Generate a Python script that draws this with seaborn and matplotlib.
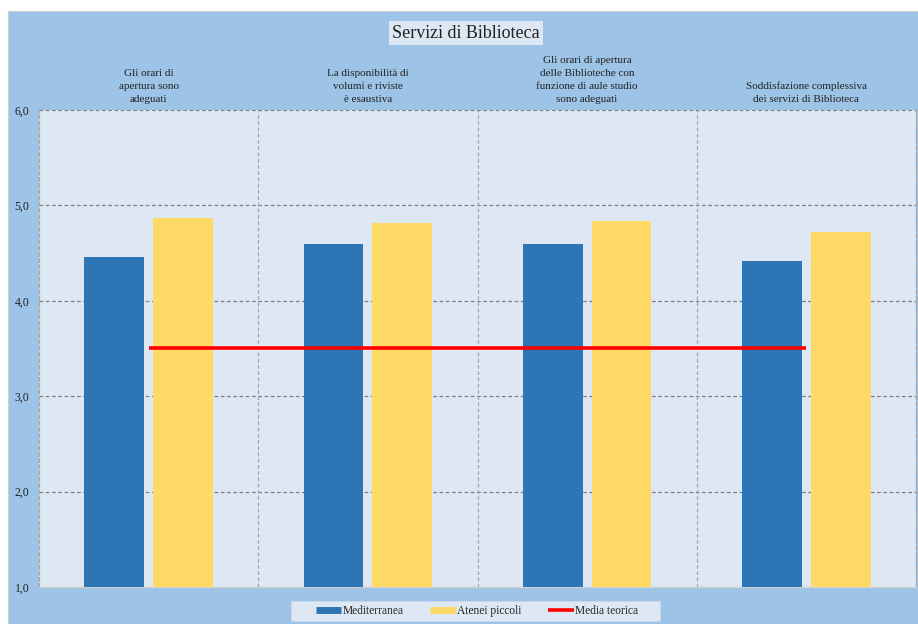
import matplotlib
matplotlib.use("Agg")
import matplotlib.pyplot as plt
from matplotlib.lines import Line2D
from matplotlib.patches import Rectangle
import seaborn as sns
import pandas as pd

# Survey items (category labels shown above the plot)
categories = [
    "Gli orari di\napertura sono\nadeguati",
    "La disponibilità di\nvolumi e riviste\nè esaustiva",
    "Gli orari di apertura\ndelle Biblioteche con\nfunzione di aule studio\nsono adeguati",
    "Soddisfazione complessiva\ndei servizi di Biblioteca",
]
mediterranea = [4.46, 4.60, 4.60, 4.42]
atenei_piccoli = [4.87, 4.82, 4.84, 4.72]
media_teorica = [3.5, 3.5, 3.5, 3.5]
series_names = ["Mediterranea", "Atenei piccoli"]
yticks = [1.0, 2.0, 3.0, 4.0, 5.0, 6.0]

OUTER_BG = "#9DC3E6"
PLOT_BG = "#DDE8F4"
BLUE = "#2E75B6"
YELLOW = "#FFD966"
RED = "#FF0000"

df = pd.DataFrame({
    "item": list(range(len(categories))) * 2,
    "serie": [series_names[0]] * len(categories) + [series_names[1]] * len(categories),
    "valore": mediterranea + atenei_piccoli,
})

sns.set_theme(style="white")
plt.rcParams["font.family"] = ["Liberation Serif", "DejaVu Serif"]

fig = plt.figure(figsize=(9.18, 6.24), dpi=100)
fig.patch.set_facecolor("white")
fig.patches.append(Rectangle((8 / 918, 0), 1 - 8 / 918, 1 - 11 / 624,
                             transform=fig.transFigure, facecolor=OUTER_BG,
                             edgecolor="#D0D0D0", lw=0.8, zorder=-10))

ax = fig.add_axes([39 / 918, 1 - 587 / 624, (916 - 39) / 918, (587 - 110) / 624])
ax.set_facecolor(PLOT_BG)

sns.barplot(data=df, x="item", y="valore", hue="serie", order=list(range(len(categories))),
            palette=[BLUE, YELLOW], width=0.628, gap=0.13, dodge=True,
            native_scale=False, ax=ax, legend=False, zorder=3,
            edgecolor="none", saturation=1)

xs = list(range(len(categories)))
ax.plot(xs, media_teorica, color=RED, lw=2.6, zorder=4, solid_capstyle="butt")

ax.set_xlim(-0.5, len(categories) - 0.5)
ax.set_ylim(1.0, 6.0)
ax.set_yticks(yticks)
ax.set_yticklabels([f"{v:.1f}".replace(".", ",") for v in yticks], fontsize=8.5, color="#222222")
ax.set_xticks([])
ax.set_xlabel("")
ax.set_ylabel("")
ax.tick_params(axis="y", length=0, pad=7)

# dashed horizontal gridlines and category separators
for v in yticks[1:]:
    ax.axhline(v, color="#7F7F7F", lw=0.9, ls=(0, (3, 2)), zorder=1)
for sep in [i + 0.5 for i in range(len(categories) - 1)]:
    ax.axvline(sep, color="#A6A6A6", lw=0.9, ls=(0, (3, 2)), zorder=1)

for side in ["left", "right"]:
    ax.spines[side].set_linestyle((0, (3, 2)))
    ax.spines[side].set_color("#A6A6A6")
    ax.spines[side].set_linewidth(0.9)
ax.spines["top"].set_visible(False)
ax.spines["bottom"].set_color("#D0D0D0")
ax.spines["bottom"].set_linewidth(1.0)

# category captions above the plot area
for i, lab in enumerate(categories):
    ax.text(i, 1.0 + 6 / 477, lab, transform=ax.get_xaxis_transform(),
            ha="center", va="bottom", fontsize=8, color="#222222", linespacing=1.55)

fig.text(466 / 918, 1 - 33 / 624, "Servizi di Biblioteca", ha="center", va="center",
         fontsize=13, color="#222222",
         bbox=dict(boxstyle="square,pad=0.2", facecolor=PLOT_BG, edgecolor="none"))

# legend panel
fig.patches.append(Rectangle((291 / 918, 1 - 621 / 624), (660 - 291) / 918, 20 / 624,
                             transform=fig.transFigure, facecolor=PLOT_BG,
                             edgecolor="#C8D6E6", lw=0.6, zorder=-5))
handles = [
    Line2D([0], [0], color=BLUE, lw=5, solid_capstyle="butt"),
    Line2D([0], [0], color=YELLOW, lw=5, solid_capstyle="butt"),
    Line2D([0], [0], color=RED, lw=2.6, solid_capstyle="butt"),
]
labels = series_names + ["Media teorica"]
fig.legend(handles, labels, loc="center", bbox_to_anchor=(477 / 918, 1 - 611 / 624),
           ncol=3, fontsize=8.3, frameon=False, handlelength=2.2,
           handletextpad=0.15, columnspacing=2.3, borderpad=0.2)

fig.savefig("out.png", dpi=100, facecolor=fig.get_facecolor())
